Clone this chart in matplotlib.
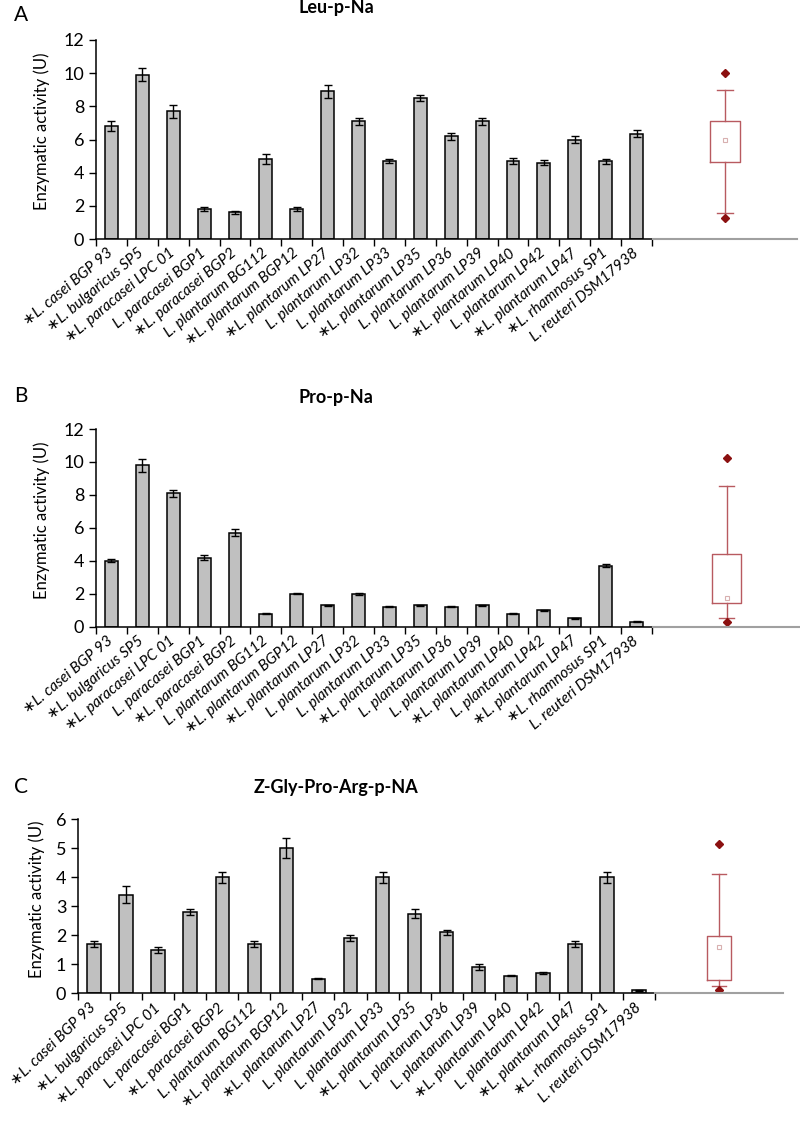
import numpy as np
import matplotlib.pyplot as plt
from matplotlib.ticker import MultipleLocator, FixedLocator

plt.rcParams['font.family'] = ['Lato', 'DejaVu Sans']

strains = ["\u2217L. casei BGP 93", "\u2217L. bulgaricus SP5", "\u2217L. paracasei LPC 01",
           "L. paracasei BGP1", "\u2217L. paracasei BGP2", "L. plantarum BG112",
           "\u2217L. plantarum BGP12", "\u2217L. plantarum LP27", "L. plantarum LP32",
           "L. plantarum LP33", "\u2217L. plantarum LP35", "L. plantarum LP36",
           "L. plantarum LP39", "\u2217L. plantarum LP40", "L. plantarum LP42",
           "\u2217L. plantarum LP47", "\u2217L. rhamnosus SP1", "L. reuteri DSM17938"]

# Leu-p-Na
leu = [6.8, 9.9, 7.7, 1.8, 1.6, 4.8, 1.8, 8.9, 7.1, 4.7, 8.5, 6.2, 7.1, 4.7, 4.6, 6.0, 4.7, 6.35]
leu_err = [0.3, 0.4, 0.4, 0.1, 0.1, 0.3, 0.1, 0.4, 0.2, 0.1, 0.2, 0.2, 0.2, 0.2, 0.15, 0.2, 0.15, 0.2]
leu_box = [1.58, 4.66, 6.0, 7.1, 9.0]        # whislo, q1, mean, q3, whishi
leu_out = [10.0, 1.28]

# Pro-p-Na
pro = [4.0, 9.8, 8.1, 4.2, 5.7, 0.8, 2.0, 1.3, 2.0, 1.2, 1.3, 1.2, 1.3, 0.8, 1.0, 0.5, 3.7, 0.3]
pro_err = [0.1, 0.4, 0.2, 0.15, 0.2, 0.03, 0.03, 0.03, 0.05, 0.03, 0.03, 0.03, 0.03, 0.03, 0.03, 0.03, 0.1, 0.02]
pro_box = [0.53, 1.44, 1.74, 4.41, 8.52]
pro_out = [10.24, 0.29]

# Z-Gly-Pro-Arg-p-NA
gpa = [1.7, 3.4, 1.5, 2.8, 4.0, 1.7, 5.0, 0.5, 1.9, 4.0, 2.75, 2.1, 0.9, 0.6, 0.7, 1.7, 4.0, 0.1]
gpa_err = [0.1, 0.3, 0.1, 0.1, 0.2, 0.1, 0.35, 0.02, 0.1, 0.2, 0.15, 0.1, 0.1, 0.02, 0.02, 0.1, 0.2, 0.02]
gpa_box = [0.26, 0.45, 1.6, 1.99, 4.1]
gpa_out = [5.14, 0.1]

W, H = 800, 1135
fig = plt.figure(figsize=(W / 100, H / 100), dpi=100)


def fbox(left, right, top, bottom):
    return [left / W, 1 - bottom / H, (right - left) / W, (bottom - top) / H]


# letter, title, data..., ymax, step, bar axes px, box axes px, letter y, title y,
# ylabel right edge, box width, label angle
panels = [
    ("A", "Leu-p-Na", leu, leu_err, leu_box, leu_out, 12, 2,
     (96, 652, 40, 239), (653, 797), 15, 8, 50, 0.43, 40),
    ("B", "Pro-p-Na", pro, pro_err, pro_box, pro_out, 12, 2,
     (96, 652, 429, 626.7), (653, 800), 396, 397, 50, 0.40, 40),
    ("C", "Z-Gly-Pro-Arg-p-NA", gpa, gpa_err, gpa_box, gpa_out, 6, 1,
     (78, 655, 819.3, 993.3), (655, 783), 787, 788, 45, 0.38, 44),
]

x = np.arange(len(strains))
box_col = '#b85a60'

for letter, title, vals, errs, bstats, bout, ymax, ystep, (l, r, t, b), (bl, br), ly, ty, yl, bw, rot in panels:
    ax = fig.add_axes(fbox(l, r, t, b))
    ax.bar(x, vals, width=0.42, color='#c0c0c0', edgecolor='black', linewidth=1.1,
           yerr=errs, error_kw=dict(ecolor='black', elinewidth=1, capsize=3, capthick=1))
    ax.set_xlim(-0.5, len(strains) - 0.5)
    ax.set_ylim(0, ymax)
    ax.yaxis.set_major_locator(MultipleLocator(ystep))
    ax.xaxis.set_major_locator(FixedLocator(np.arange(len(strains) + 1) - 0.5))
    ax.xaxis.set_minor_locator(FixedLocator(x))
    ax.set_xticklabels([], minor=False)
    ax.set_xticklabels(strains, minor=True, rotation=rot, ha='right', va='center',
                       rotation_mode='anchor', fontsize=11, style='italic')
    ax.tick_params(axis='x', which='major', length=5, width=1, direction='out')
    ax.tick_params(axis='x', which='minor', length=0, pad=9)
    ax.tick_params(axis='y', length=5, width=1, labelsize=13)
    for s in ['top', 'right']:
        ax.spines[s].set_visible(False)
    for s in ['left', 'bottom']:
        ax.spines[s].set_linewidth(1.1)
    ax.set_ylabel("Enzymatic activity (U)", fontsize=12)
    ax.yaxis.set_label_coords((yl - l) / (r - l), 0.54)

    fig.text(14 / W, 1 - ly / H, letter, fontsize=15, ha='left', va='center')
    fig.text(336 / W, 1 - ty / H, title, fontsize=13, fontweight='bold', ha='center', va='center')

    bax = fig.add_axes(fbox(bl, br, t, b))
    whislo, q1, mean, q3, whishi = bstats
    stats = [dict(whislo=whislo, q1=q1, med=mean, mean=mean, q3=q3, whishi=whishi, fliers=bout)]
    bax.bxp(stats, positions=[1], widths=bw, capwidths=0.21, showmeans=True, patch_artist=False,
            boxprops=dict(color=box_col, linewidth=1),
            whiskerprops=dict(color=box_col, linewidth=1),
            capprops=dict(color=box_col, linewidth=1),
            medianprops=dict(linewidth=0),
            meanprops=dict(marker='s', markersize=3, markerfacecolor='white',
                           markeredgecolor='#d8b0b0', markeredgewidth=0.8),
            flierprops=dict(marker='D', markersize=4, markerfacecolor='#8b1010',
                            markeredgecolor='#8b1010'))
    bax.set_xlim(0, 2)
    bax.set_ylim(0, ymax)
    bax.set_xticks([])
    bax.set_yticks([])
    for s in ['top', 'right', 'left']:
        bax.spines[s].set_visible(False)
    bax.spines['bottom'].set_color('#a0a0a0')
    bax.spines['bottom'].set_linewidth(1.5)
    bax.patch.set_alpha(0)

fig.savefig("out.png", dpi=100)
